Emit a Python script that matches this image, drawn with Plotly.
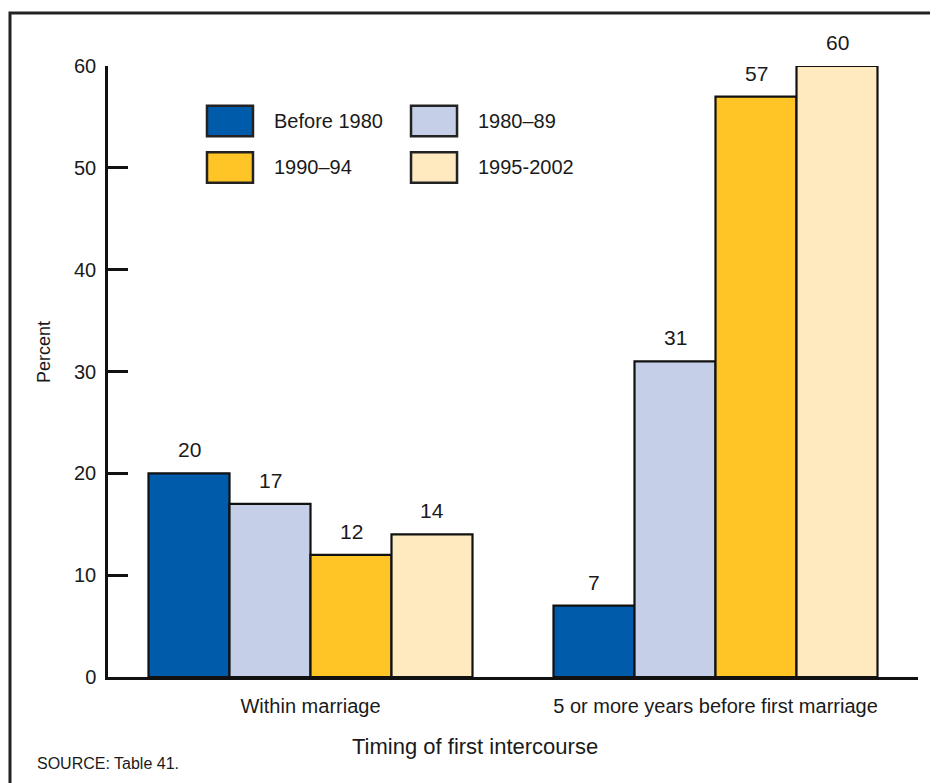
import plotly.graph_objects as go

categories = ["Within marriage", "5 or more years before first marriage"]
series_names = ["Before 1980", "1980\u201389", "1990\u201394", "1995-2002"]
series_values = [
    [20, 7],
    [17, 31],
    [12, 57],
    [14, 60],
]
series_colors = ["#005BAA", "#C5CFE7", "#FFC425", "#FFEAC0"]
y_ticks = [0, 10, 20, 30, 40, 50, 60]

FONT = "Liberation Sans, Arial, Helvetica, sans-serif"
TXT = "#1a1a1a"
FS = 20

n_series = len(series_names)
group_w = 0.8
bar_w = group_w / n_series

fig = go.Figure()
for j, (name, vals, col) in enumerate(zip(series_names, series_values, series_colors)):
    fig.add_trace(go.Bar(
        name=name, x=list(range(len(categories))), y=vals,
        marker=dict(color=col, line=dict(color="#111111", width=2.2)),
        showlegend=False,
    ))
    for i, v in enumerate(vals):
        fig.add_annotation(
            x=i + (j - (n_series - 1) / 2) * bar_w, y=v, xref="x", yref="y",
            text=str(v), showarrow=False, yanchor="bottom", yshift=10,
            font=dict(size=21, family=FONT, color=TXT),
        )

# custom legend (large swatches)
leg_x = [0.1222, 0.3741]
leg_y = [0.9100, 0.8339]
sw_w, sw_h = 0.0568, 0.050
for j, (name, col) in enumerate(zip(series_names, series_colors)):
    cx = leg_x[j % 2]
    cy = leg_y[j // 2]
    fig.add_shape(type="rect", xref="paper", yref="paper",
                  x0=cx, x1=cx + sw_w, y0=cy - sw_h / 2, y1=cy + sw_h / 2,
                  fillcolor=col, line=dict(color="#222222", width=2.5))
    fig.add_annotation(x=cx + sw_w + 0.0235, y=cy, xref="paper", yref="paper",
                       text=name, showarrow=False, xanchor="left", yanchor="middle",
                       font=dict(size=FS, family=FONT, color=TXT))

# frame
fig.add_shape(type="rect", xref="paper", yref="paper",
              x0=-0.121, x1=1.2, y0=-0.4, y1=1.0867,
              line=dict(color="#222222", width=3), fillcolor="rgba(0,0,0,0)")

fig.add_annotation(x=0.4537, y=-0.114, xref="paper", yref="paper",
                   text="Timing of first intercourse", showarrow=False,
                   yanchor="middle", font=dict(size=22, family=FONT, color=TXT))
fig.add_annotation(x=-0.079, y=0.532, xref="paper", yref="paper",
                   text="Percent", showarrow=False, textangle=-90,
                   xanchor="center", yanchor="middle",
                   font=dict(size=18, family=FONT, color=TXT))
fig.add_annotation(x=-0.09, y=-0.141, xref="paper", yref="paper",
                   text="SOURCE: Table 41.", showarrow=False,
                   xanchor="left", yanchor="middle",
                   font=dict(size=16, family=FONT, color=TXT))

fig.update_layout(
    width=930, height=775,
    margin=dict(l=100, r=20, t=58, b=106),
    paper_bgcolor="white", plot_bgcolor="white",
    barmode="group", bargap=0.2, bargroupgap=0,
    font=dict(family=FONT, color=TXT, size=FS),
    xaxis=dict(
        range=[-0.5, 1.5], tickvals=list(range(len(categories))), ticktext=categories,
        showline=True, linecolor="#111111", linewidth=2.5, ticks="", showgrid=False,
        zeroline=False, ticklabelstandoff=9, tickfont=dict(size=FS, family=FONT, color=TXT),
    ),
    yaxis=dict(
        range=[0, 60], tickvals=y_ticks, showline=True, linecolor="#111111", linewidth=2.5,
        ticks="inside", ticklen=20, tickwidth=2.5, tickcolor="#111111",
        showgrid=False, zeroline=False, ticklabelstandoff=5,
        tickfont=dict(size=FS, family=FONT, color=TXT),
    ),
)

fig.write_html("out.html")
